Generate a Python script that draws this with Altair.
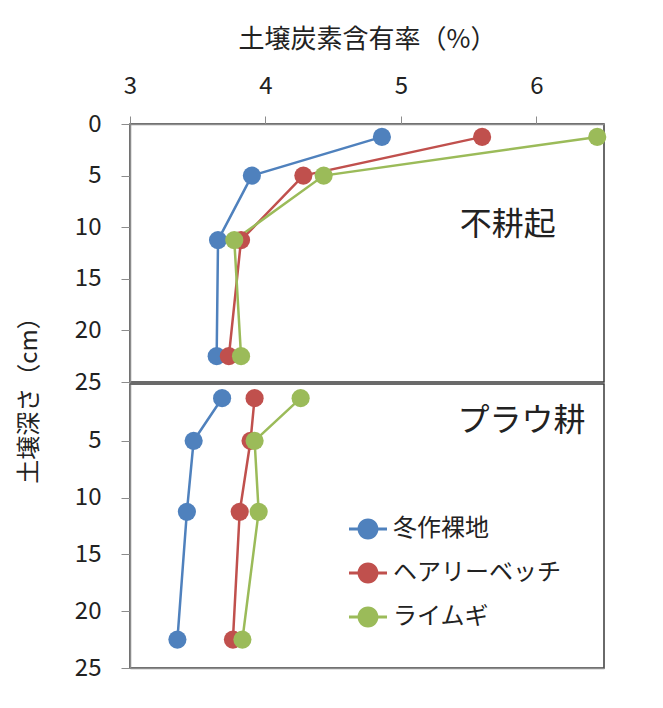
import altair as alt
import pandas as pd

# ---- data ----
depths = [1.25, 5, 11.25, 22.5]
series_names = ["冬作裸地", "ヘアリーベッチ", "ライムギ"]
series_colors = ["#4F81BD", "#C0504D", "#9BBB59"]

# 不耕起 (no-till)
notill_bare = [4.86, 3.90, 3.65, 3.64]
notill_vetch = [5.60, 4.28, 3.82, 3.73]
notill_rye = [6.45, 4.43, 3.77, 3.82]

# プラウ耕 (plow)
plow_bare = [3.68, 3.47, 3.42, 3.35]
plow_vetch = [3.92, 3.89, 3.81, 3.76]
plow_rye = [4.26, 3.92, 3.95, 3.83]

x_ticks = [3, 4, 5, 6]
y_ticks_top = [0, 5, 10, 15, 20, 25]
y_ticks_bottom = [5, 10, 15, 20, 25]

panel_labels = ["不耕起", "プラウ耕"]

FONT = "Noto Sans CJK JP"
GREY = "#8c8c8c"
FRAME = "#3a3a3a"
TEXT = "#222222"


def make_df(values_lists):
    rows = []
    for name, vals in zip(series_names, values_lists):
        for d, v in zip(depths, vals):
            rows.append({"series": name, "depth": d, "value": v})
    return pd.DataFrame(rows)


df_top = make_df([notill_bare, notill_vetch, notill_rye])
df_bot = make_df([plow_bare, plow_vetch, plow_rye])

color_scale = alt.Scale(domain=series_names, range=series_colors)
x_scale = alt.Scale(domain=[3, 6.5], nice=False, zero=False)
y_scale = alt.Scale(domain=[0, 25], nice=False, zero=False, reverse=True)

W = 474
H_TOP = 258
H_BOT = 284

legend_path = ("M-1,-0.085H1V0.085H-1Z "
               "M0.55,0A0.55,0.55 0 1,1 -0.55,0A0.55,0.55 0 1,1 0.55,0Z")


def panel(df, x_axis, y_axis, label, label_pos, legend, height):
    x = alt.X("value:Q", scale=x_scale, axis=x_axis)
    y = alt.Y("depth:Q", scale=y_scale, axis=y_axis)
    lines = alt.Chart(df).mark_line(strokeWidth=2.5).encode(
        x=x, y=y,
        color=alt.Color("series:N", scale=color_scale, legend=legend),
        order=alt.Order("depth:Q"),
    )
    pts = alt.Chart(df).mark_point(filled=True, size=330, opacity=1).encode(
        x=x, y=y,
        color=alt.Color("series:N", scale=color_scale, legend=legend),
    )
    lab_df = pd.DataFrame({"label": [label], "x": [label_pos[0]], "y": [label_pos[1]]})
    txt = alt.Chart(lab_df).mark_text(
        font=FONT, fontSize=32, color=TEXT, align="center", baseline="middle"
    ).encode(
        x=alt.X("x:Q", scale=x_scale),
        y=alt.Y("y:Q", scale=y_scale),
        text="label:N",
    )
    return alt.layer(lines, pts, txt).properties(
        width=W, height=height,
        view=alt.ViewBackground(stroke=FRAME, strokeWidth=1.5),
    )


top_x_axis = alt.Axis(
    orient="top", values=x_ticks, format="d", grid=False, title="土壌炭素含有率（%）",
    labelFontSize=24, labelFont=FONT, labelColor=TEXT, labelFlush=False,
    labelPadding=30, labelBaseline="middle",
    tickSize=8, tickColor=GREY, domainColor=GREY, domainWidth=1.5,
    titleFontSize=26, titleFont=FONT, titleFontWeight="normal", titleColor=TEXT,
    titleY=-85, titleBaseline="middle",
)
top_y_axis = alt.Axis(
    values=y_ticks_top, format="d", grid=False, title="土壌深さ（cm）",
    labelFontSize=24, labelFont=FONT, labelColor=TEXT, labelFlush=False,
    labelPadding=20, tickSize=9, tickColor=GREY, domainColor=GREY, domainWidth=1.5,
    titleFontSize=24, titleFont=FONT, titleFontWeight="normal", titleColor=TEXT,
    titleAngle=270, titleX=-101, titleY=270, titleAlign="center", titleBaseline="middle",
)
bot_x_axis = alt.Axis(
    orient="bottom", labels=False, ticks=False, grid=False, title=None,
    domainColor=GREY, domainWidth=1.5,
)
bot_y_axis = alt.Axis(
    values=y_ticks_bottom, format="d", grid=False, title=None,
    labelFontSize=24, labelFont=FONT, labelColor=TEXT, labelFlush=False,
    labelPadding=20, tickSize=9, tickColor=GREY, domainColor=GREY, domainWidth=1.5,
)

legend = alt.Legend(
    title=None, orient="none", legendX=219, legendY=126,
    symbolType=legend_path, symbolSize=1444, symbolStrokeWidth=0,
    symbolOpacity=1,
    labelFontSize=24, labelFont=FONT, labelColor=TEXT, labelOffset=6,
    labelLimit=0, rowPadding=13, padding=0,
)

top = panel(df_top, top_x_axis, top_y_axis, panel_labels[0], (5.79, 9.8), None, H_TOP)
bot = panel(df_bot, bot_x_axis, bot_y_axis, panel_labels[1], (5.89, 3.26), legend, H_BOT)

chart = alt.vconcat(top, bot, spacing=2, bounds="flush").resolve_legend(
    color="independent"
).properties(
    padding={"left": 8, "top": 17, "right": 10, "bottom": 10}
).configure_view(
    stroke=FRAME, strokeWidth=1.5
).configure(
    font=FONT, background="white"
)

chart.save("out.html", embed_options={"renderer": "svg", "actions": False})
